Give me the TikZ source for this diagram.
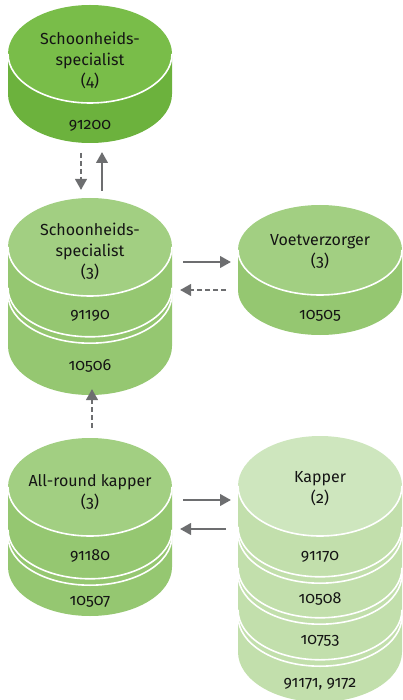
\documentclass[tikz,border=0pt]{standalone}
\usepackage{fontspec}
\setmainfont{Fira Sans}[Numbers=OldStyle]
\usetikzlibrary{arrows.meta}

\definecolor{topA}{HTML}{79BD49}
\definecolor{sideA}{HTML}{6CB23D}
\definecolor{topB}{HTML}{A2CF82}
\definecolor{sideB}{HTML}{95C771}
\definecolor{topC}{HTML}{CEE6BE}
\definecolor{sideC}{HTML}{C2DFAC}
\definecolor{arrowgray}{HTML}{6D6E70}
\definecolor{ink}{HTML}{141414}

% side band of a drum: #1 centre x, #2 centre y of top face, #3 rx, #4 ry,
% #5 lowest point of the drum, #6 colour
\newcommand{\drumside}[6]{%
  \fill[#6] (#1-#3,-#2) -- (#1-#3,-#5+#4)
    arc[start angle=180,end angle=360,x radius=#3,y radius=#4]
    -- (#1+#3,-#2) -- cycle;}
% top face with its white rim
\newcommand{\drumtop}[5]{%
  \fill[#5] (#1,-#2) ellipse[x radius=#3,y radius=#4];
  \draw[rim] (#1-#3,-#2) arc[start angle=180,end angle=360,x radius=#3,y radius=#4];}
% double white seam whose lowest point lies at #2
\newcommand{\drumseam}[4]{%
  \draw[rim] (#1-#3,-#2+#4+3.2) arc[start angle=180,end angle=360,x radius=#3,y radius=#4];
  \draw[rim] (#1-#3,-#2+#4-3.2) arc[start angle=180,end angle=360,x radius=#3,y radius=#4];}

\tikzset{
  rim/.style={white, line width=1.6pt},
  lbl/.style={text=ink, font=\fontsize{16}{21}\selectfont, align=center, inner sep=0pt},
  arr/.style={draw=arrowgray, line width=2.4pt, -{Triangle[length=11pt,width=11.5pt]}},
  darr/.style={arr, dash pattern=on 5pt off 3pt},
}

\begin{document}
\begin{tikzpicture}[x=1pt,y=1pt]
\useasboundingbox (0,0) rectangle (402,-700);

% Schoonheidsspecialist (4)
\drumside{90}{54}{82}{49}{143}{sideA}
\drumtop{90}{54}{82}{49}{topA}
\node[lbl] (s4) at (90,-60) {Schoonheids-\\specialist\\(4)};
\node[lbl] (s4a) at (90,-126) {91200};

% Schoonheidsspecialist (3)
\drumside{90}{247}{82}{49}{395}{sideB}
\drumtop{90}{247}{82}{49}{topB}
\drumseam{90}{340}{82}{49}
\node[lbl] (s3) at (90,-251) {Schoonheids-\\specialist\\(3)};
\node[lbl] (s3a) at (90,-316) {91190};
\node[lbl] (s3b) at (90,-366) {10506};

% Voetverzorger (3)
\drumside{320}{250}{82}{45}{335}{sideB}
\drumtop{320}{250}{82}{45}{topB}
\node[lbl] (v3) at (320,-252) {Voetverzorger\\(3)};
\node[lbl] (v3a) at (320,-316) {10505};

% All-round kapper (3)
\drumside{90}{487}{82}{49}{616}{sideB}
\drumtop{90}{487}{82}{49}{topB}
\drumseam{90}{582}{82}{49}
\node[lbl] (k3) at (90,-492) {All-round kapper\\(3)};
\node[lbl] (k3a) at (90,-556) {91180};
\node[lbl] (k3b) at (90,-602) {10507};

% Kapper (2)
\drumside{320}{486}{82}{50}{702}{sideC}
\drumtop{320}{486}{82}{50}{topC}
\drumseam{320}{580}{82}{50}
\drumseam{320}{621}{82}{50}
\drumseam{320}{663}{82}{50}
\node[lbl] (k2) at (320,-489) {Kapper\\(2)};
\node[lbl] (k2a) at (320,-557) {91170};
\node[lbl] (k2b) at (320,-599) {10508};
\node[lbl] (k2c) at (320,-641) {10753};
\node[lbl] (k2d) at (320,-684) {91171, 9172};

% arrow end points
\coordinate (d1s) at (81,-153);  \coordinate (d1e) at (81,-190);
\coordinate (u1s) at (102,-191); \coordinate (u1e) at (102,-152);
\coordinate (r1s) at (183,-262); \coordinate (r1e) at (231,-262);
\coordinate (l1s) at (226,-290); \coordinate (l1e) at (180,-290);
\coordinate (u2s) at (92,-428);  \coordinate (u2e) at (92,-389);
\coordinate (r2s) at (183,-500); \coordinate (r2e) at (231,-500);
\coordinate (l2s) at (226,-529); \coordinate (l2e) at (180,-529);

\draw[darr] (d1s) -- (d1e);
\draw[arr]  (u1s) -- (u1e);
\draw[arr]  (r1s) -- (r1e);
\draw[darr] (l1s) -- (l1e);
\draw[darr] (u2s) -- (u2e);
\draw[arr]  (r2s) -- (r2e);
\draw[arr]  (l2s) -- (l2e);
\end{tikzpicture}
\end{document}
